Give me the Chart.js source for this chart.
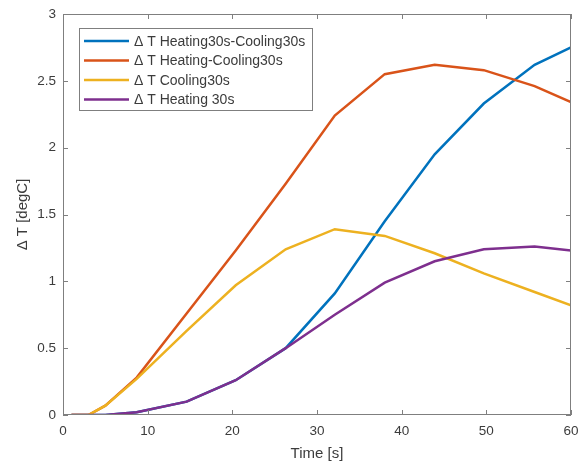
<!DOCTYPE html>
<html>
<head>
<meta charset="utf-8">
<script src="https://cdn.jsdelivr.net/npm/chart.js"></script>
<style>
  body { margin: 0; background: #fff; }
  #wrap { width: 579px; height: 465px; }
</style>
</head>
<body>
<div id="wrap"><canvas id="tempChart" width="579" height="465"></canvas></div>
<script>
// time samples [s]
var times = [1, 3, 5, 8.7, 14.6, 20.4, 26.3, 32.1, 38, 43.9, 49.7, 55.7, 60];

// Delta T [degC] per test
var heatCool30     = [0, 0, 0, 0.02, 0.10, 0.26, 0.50, 0.91, 1.45, 1.95, 2.33, 2.62, 2.75];
var heatingCool30  = [0, 0, 0.07, 0.28, 0.76, 1.23, 1.73, 2.24, 2.55, 2.62, 2.58, 2.46, 2.34];
var cooling30      = [0, 0, 0.07, 0.27, 0.63, 0.97, 1.24, 1.39, 1.34, 1.21, 1.06, 0.92, 0.82];
var heating30      = [0, 0, 0, 0.02, 0.10, 0.26, 0.50, 0.75, 0.99, 1.15, 1.24, 1.26, 1.23];

var seriesLabels = ['\u0394 T Heating30s-Cooling30s', '\u0394 T Heating-Cooling30s', '\u0394 T Cooling30s', '\u0394 T Heating 30s'];
var seriesColors = ['#0072BD', '#D95319', '#EDB120', '#7E2F8E'];

var xTicks = [0, 10, 20, 30, 40, 50, 60];
var yTicks = [0, 0.5, 1, 1.5, 2, 2.5, 3];

function toPoints(vals) {
  return vals.map(function (v, i) { return { x: times[i], y: v }; });
}

var allSeries = [heatCool30, heatingCool30, cooling30, heating30];
var datasets = allSeries.map(function (vals, i) {
  return {
    label: seriesLabels[i],
    data: toPoints(vals),
    borderColor: seriesColors[i],
    backgroundColor: seriesColors[i],
    borderWidth: 2.5,
    pointRadius: 0,
    tension: 0,
    fill: false,
    order: allSeries.length - i   // later series on top, like matlab
  };
});

var axisGray = '#7f7f7f';
var textGray = '#3c3c3c';
var fontFam = '"Liberation Sans", Arial, sans-serif';

// box round the axes with inward ticks
var boxPlugin = {
  id: 'matlabBox',
  afterDatasetsDraw: function (chart) {
    var ctx = chart.ctx, a = chart.chartArea;
    var xs = chart.scales.x, ys = chart.scales.y;
    var tl = 5;
    ctx.save();
    ctx.strokeStyle = axisGray;
    ctx.lineWidth = 1;
    ctx.strokeRect(Math.round(a.left) + 0.5, Math.round(a.top) + 0.5,
                   Math.round(a.right - a.left) - 1, Math.round(a.bottom - a.top) - 1);
    ctx.beginPath();
    xTicks.forEach(function (v) {
      var px = Math.round(xs.getPixelForValue(v)) + 0.5;
      ctx.moveTo(px, a.bottom); ctx.lineTo(px, a.bottom - tl);
      ctx.moveTo(px, a.top); ctx.lineTo(px, a.top + tl);
    });
    yTicks.forEach(function (v) {
      var py = Math.round(ys.getPixelForValue(v)) + 0.5;
      ctx.moveTo(a.left, py); ctx.lineTo(a.left + tl, py);
      ctx.moveTo(a.right, py); ctx.lineTo(a.right - tl, py);
    });
    ctx.stroke();
    ctx.restore();
  }
};

// legend box inside the axes, top left
var legendPlugin = {
  id: 'insideLegend',
  afterDraw: function (chart) {
    var ctx = chart.ctx;
    var bx = 79, by = 28, bw = 233, bh = 82;
    ctx.save();
    ctx.fillStyle = '#fff';
    ctx.fillRect(bx, by, bw, bh);
    ctx.strokeStyle = axisGray;
    ctx.lineWidth = 1;
    ctx.strokeRect(bx + 0.5, by + 0.5, bw, bh);
    ctx.font = '14px ' + fontFam;
    ctx.textBaseline = 'middle';
    chart.data.datasets.forEach(function (ds, i) {
      var yy = 41 + i * 19.5;
      ctx.strokeStyle = ds.borderColor;
      ctx.lineWidth = 2.5;
      ctx.beginPath();
      ctx.moveTo(84, yy); ctx.lineTo(129, yy);
      ctx.stroke();
      ctx.fillStyle = textGray;
      ctx.fillText(ds.label, 134, yy + 1);
    });
    ctx.restore();
  }
};

function plainLabel(v) { return String(v); }

var ctx = document.getElementById('tempChart').getContext('2d');
var tempChart = new Chart(ctx, {
  type: 'line',
  data: { datasets: datasets },
  options: {
    responsive: false,
    animation: false,
    layout: { padding: { top: 14, right: 8, left: 0, bottom: 0 } },
    plugins: {
      legend: { display: false },
      tooltip: { enabled: false }
    },
    scales: {
      x: {
        type: 'linear',
        min: 0,
        max: 60,
        afterFit: function (s) { s.height = 50; s.paddingLeft = 0; s.paddingRight = 0; },
        afterBuildTicks: function (s) { s.ticks = xTicks.map(function (v) { return { value: v }; }); },
        grid: { display: false, drawTicks: false },
        border: { display: false },
        ticks: {
          padding: 8,
          color: textGray,
          callback: plainLabel,
          font: { family: fontFam, size: 13.5 }
        },
        title: {
          display: true,
          text: 'Time [s]',
          color: textGray,
          padding: { top: 0, bottom: 2 },
          font: { family: fontFam, size: 15 }
        }
      },
      y: {
        type: 'linear',
        min: 0,
        max: 3,
        afterFit: function (s) { s.width = 63; s.paddingTop = 0; s.paddingBottom = 0; },
        afterBuildTicks: function (s) { s.ticks = yTicks.map(function (v) { return { value: v }; }); },
        grid: { display: false, drawTicks: false },
        border: { display: false },
        ticks: {
          padding: 7,
          color: textGray,
          callback: plainLabel,
          font: { family: fontFam, size: 13.5 }
        },
        title: {
          display: true,
          text: '\u0394 T [degC]',
          color: textGray,
          padding: { top: 14, bottom: 0 },
          font: { family: fontFam, size: 15 }
        }
      }
    }
  },
  plugins: [boxPlugin, legendPlugin]
});
</script>
</body>
</html>
